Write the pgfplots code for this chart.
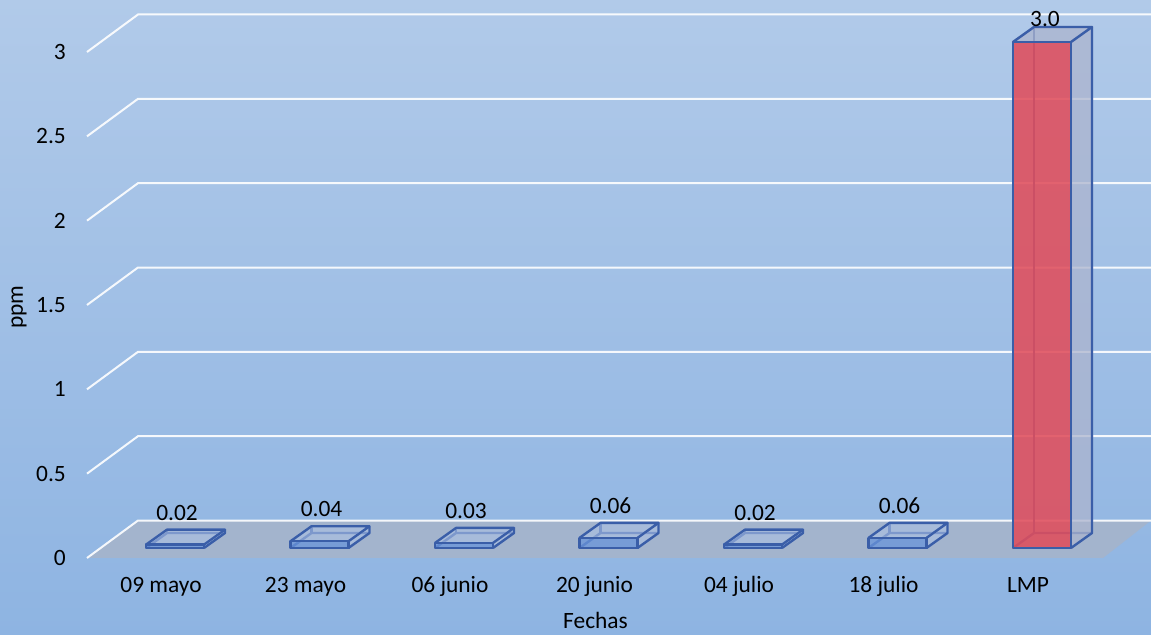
\documentclass[border=0pt]{standalone}
\usepackage{pgfplots}
\pgfplotsset{compat=1.18}
\usepackage{pgfplotstable}
\usepackage{fontspec}
\setmainfont{Carlito}
\newcommand\cf{\fontsize{23.4pt}{28pt}\selectfont}
\definecolor{bgtop}{RGB}{177,202,233}
\definecolor{bgbot}{RGB}{142,180,226}
\definecolor{floorcol}{RGB}{163,180,205}
\definecolor{edgecol}{RGB}{58,94,168}
\definecolor{smallfront}{RGB}{105,148,218}
\definecolor{smalltop}{RGB}{170,192,228}
\definecolor{lmpfront}{RGB}{224,78,92}
\definecolor{lmpside}{RGB}{172,180,206}
\pgfdeclareplotmark{nothing}{}

\pgfplotstableread{
x v
0 0.02
1 0.04
2 0.03
3 0.06
4 0.02
5 0.06
}\smalldata
\pgfplotstableread{
x v
6 3.0
}\lmpdata

\pgfplotsset{box3d/.style n args={4}{
  only marks, mark=nothing, scatter,
  visualization depends on={\thisrow{v} \as \hv},
  scatter/@pre marker code/.code={%
    \pgfmathsetmacro\hh{\hv*168.67}%
    \pgfmathsetmacro\yb{10-\hh}%
    \pgfmathsetmacro\ybb{25-\hh}%
    \begin{scope}[x=1pt, y=1pt, line join=round, line width=2.4pt]
      \draw[edgecol] (-15,\yb) -- (6,\ybb) -- (64,\ybb);
      \draw[edgecol] (6,\ybb) -- (6,25);
      \fill[#3, opacity=#4] (43,\yb) -- (64,\ybb) -- (64,25) -- (43,10) -- cycle;
      \fill[#3, opacity=#4] (-15,10) -- (6,25) -- (64,25) -- (43,10) -- cycle;
      \fill[#1, opacity=#2] (-15,\yb) rectangle (43,10);
      \draw[edgecol] (-15,\yb) rectangle (43,10);
      \draw[edgecol] (-15,10) -- (6,25) -- (64,25) -- (43,10);
      \draw[edgecol] (64,25) -- (64,\ybb) -- (43,\yb);
    \end{scope}
  },
  scatter/@post marker code/.code={},
}}

\begin{document}
\begin{tikzpicture}
\begin{axis}[
  scale only axis, width=1151pt, height=635pt,
  xmin=-1.1142, xmax=6.8512, ymin=-0.4565, ymax=3.3083,
  axis line style={draw=none}, major tick length=0pt, tick style={draw=none},
  axis background/.style={top color=bgtop, bottom color=bgbot},
  xtick={0,1,2,3,4,5,6},
  xticklabels={09 mayo,23 mayo,06 junio,20 junio,04 julio,18 julio,LMP},
  ytick={0,0.5,1,1.5,2,2.5,3},
  yticklabels={0,0.5,1,1.5,2,2.5,3},
  xticklabel style={anchor=base, yshift=42pt, font=\cf},
  yticklabel style={anchor=east, inner sep=0pt, xshift=66pt, font=\cf},
  xlabel=Fechas, ylabel=ppm,
  xlabel style={at={(axis description cs:0.5174,0.011)}, anchor=base, font=\cf},
  ylabel style={at={(axis description cs:0.0165,0.5165)}, anchor=center, font=\cf},
  clip=false,
]
% floor
\addplot[fill=floorcol, draw=none] coordinates {(-0.5121,0) (6.519,0) (6.8512,0.2223) (-0.1592,0.2223)} -- cycle;
% grid lines
\addplot[white, line width=2pt, opacity=0.9, no markers] coordinates {(-0.5121,0) (-0.1592,0.2223) (6.8512,0.2223)};
\addplot[white, line width=2pt, opacity=0.9, no markers] coordinates {(-0.5121,0.5) (-0.1592,0.7223) (6.8512,0.7223)};
\addplot[white, line width=2pt, opacity=0.9, no markers] coordinates {(-0.5121,1) (-0.1592,1.2223) (6.8512,1.2223)};
\addplot[white, line width=2pt, opacity=0.9, no markers] coordinates {(-0.5121,1.5) (-0.1592,1.7223) (6.8512,1.7223)};
\addplot[white, line width=2pt, opacity=0.9, no markers] coordinates {(-0.5121,2) (-0.1592,2.2223) (6.8512,2.2223)};
\addplot[white, line width=2pt, opacity=0.9, no markers] coordinates {(-0.5121,2.5) (-0.1592,2.7223) (6.8512,2.7223)};
\addplot[white, line width=2pt, opacity=0.9, no markers] coordinates {(-0.5121,3) (-0.1592,3.2223) (6.8512,3.2223)};
% bars
\addplot[box3d={smallfront}{0.75}{smalltop}{0.6}] table[x=x, y=v] {\smalldata};
\addplot[box3d={lmpfront}{0.88}{lmpside}{0.75}] table[x=x, y=v] {\lmpdata};
% value labels
\addplot[only marks, mark=nothing,
  nodes near coords={\pgfmathprintnumber[fixed,fixed zerofill,precision=2,assume math mode=true]{\pgfplotspointmeta}},
  every node near coord/.append style={anchor=center, xshift=16pt, yshift=42pt, font=\cf, text=black}]
  table[x=x, y=v] {\smalldata};
\addplot[only marks, mark=nothing,
  nodes near coords={\pgfmathprintnumber[fixed,fixed zerofill,precision=1,assume math mode=true]{\pgfplotspointmeta}},
  every node near coord/.append style={anchor=center, xshift=17pt, yshift=33pt, font=\cf, text=black}]
  table[x=x, y=v] {\lmpdata};
\end{axis}
\pgfresetboundingbox
\path[use as bounding box] (current axis.south west) rectangle (current axis.north east);
\end{tikzpicture}
\end{document}
